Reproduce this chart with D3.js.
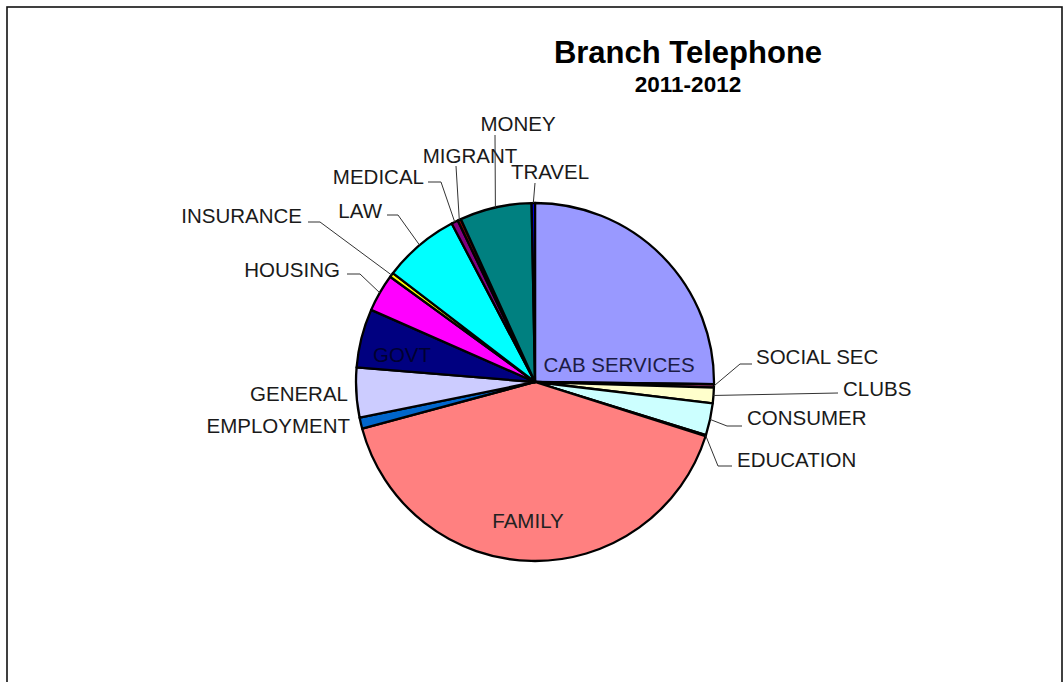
<!DOCTYPE html>
<html>
<head>
<meta charset="utf-8">
<script src="https://cdn.jsdelivr.net/npm/d3@7"></script>
<style>
  html, body { margin: 0; padding: 0; background: #fff; }
  svg { display: block; }
  text { font-family: "Liberation Sans", Arial, sans-serif; }
</style>
</head>
<body>
<svg id="chart" width="1064" height="682"></svg>
<script>
// Enquiry categories for branch telephone calls, 2011-2012
const categories = ["CAB SERVICES", "SOCIAL SEC", "CLUBS", "CONSUMER", "EDUCATION", "FAMILY",
  "EMPLOYMENT", "GENERAL", "GOVT", "HOUSING", "INSURANCE", "LAW", "MEDICAL", "MIGRANT", "MONEY", "TRAVEL"];
const calls = [252, 3, 14, 29, 1, 409, 10, 45, 53, 34, 4, 69, 6, 3, 65, 3];
const sliceColors = ["#9999FF", "#993366", "#FFFFCC", "#CCFFFF", "#660066", "#FF8080",
  "#0066CC", "#CCCCFF", "#000080", "#FF00FF", "#FFFF00", "#00FFFF", "#800080", "#800000", "#008080", "#0000FF"];
const title = "Branch Telephone";
const subtitle = "2011-2012";

const svg = d3.select("#chart");
const cx = 535, cy = 382, radius = 179;

// frame
svg.append("rect")
  .attr("x", 7).attr("y", 7).attr("width", 1055).attr("height", 700)
  .attr("fill", "none").attr("stroke", "#111").attr("stroke-width", 1.6);

// titles
svg.append("text").attr("x", 688).attr("y", 63)
  .attr("text-anchor", "middle").attr("font-weight", "bold").attr("font-size", 31)
  .attr("fill", "#000").text(title);
svg.append("text").attr("x", 688).attr("y", 92)
  .attr("text-anchor", "middle").attr("font-weight", "bold").attr("font-size", 22.5)
  .attr("fill", "#000").text(subtitle);

const data = categories.map((c, i) => ({ name: c, value: calls[i], color: sliceColors[i] }));
const pie = d3.pie().sort(null).value(d => d.value).startAngle(0).endAngle(2 * Math.PI);
const arcs = pie(data);
const arc = d3.arc().innerRadius(0).outerRadius(radius);

const g = svg.append("g").attr("transform", `translate(${cx},${cy})`);
g.selectAll("path.slice").data(arcs).join("path")
  .attr("class", "slice")
  .attr("d", arc)
  .attr("fill", d => d.data.color)
  .attr("stroke", "#000").attr("stroke-width", 2.3).attr("stroke-linejoin", "round");

// label placement: inside labels sit on the slice, outside labels get leader lines
const labelLayout = {
  "CAB SERVICES": { x: 619, y: 365, anchor: "middle", fill: "#1c1c44" },
  "GOVT":         { x: 402, y: 355, anchor: "middle", fill: "#000030" },
  "FAMILY":       { x: 528, y: 521, anchor: "middle", fill: "#222" },
  "SOCIAL SEC":   { x: 756, y: 357, anchor: "start", leader: [[740, 364], [752, 364]] },
  "CLUBS":        { x: 843, y: 389, anchor: "start", leader: [[838, 393]] },
  "CONSUMER":     { x: 747, y: 418, anchor: "start", leader: [[727, 426], [742, 426]] },
  "EDUCATION":    { x: 737, y: 460, anchor: "start", leader: [[718, 466], [732, 466]] },
  "TRAVEL":       { x: 550, y: 172, anchor: "middle", leader: [[535, 183]] },
  "MONEY":        { x: 518, y: 124, anchor: "middle", leader: [[495, 135]] },
  "MIGRANT":      { x: 470, y: 156, anchor: "middle", leader: [[456, 166]] },
  "MEDICAL":      { x: 424, y: 177, anchor: "end", leader: [[441, 182], [428, 182]] },
  "LAW":          { x: 382, y: 211, anchor: "end", leader: [[398, 215], [387, 215]] },
  "INSURANCE":    { x: 302, y: 216, anchor: "end", leader: [[320, 222], [308, 222]] },
  "HOUSING":      { x: 340, y: 270, anchor: "end", leader: [[360, 274], [347, 274]] },
  "GENERAL":      { x: 348, y: 394, anchor: "end" },
  "EMPLOYMENT":   { x: 350, y: 426, anchor: "end" }
};

const line = d3.line();
arcs.forEach(a => {
  const L = labelLayout[a.data.name];
  if (!L) return;
  if (L.leader) {
    const mid = (a.startAngle + a.endAngle) / 2;
    const edge = [cx + radius * Math.sin(mid), cy - radius * Math.cos(mid)];
    svg.append("path")
      .attr("d", line([edge, ...L.leader]))
      .attr("fill", "none").attr("stroke", "#333").attr("stroke-width", 1);
  }
  svg.append("text")
    .attr("x", L.x).attr("y", L.y)
    .attr("dy", "0.36em")
    .attr("text-anchor", L.anchor)
    .attr("font-size", 20.5)
    .attr("fill", L.fill || "#1a1a1a")
    .text(a.data.name);
});
</script>
</body>
</html>
